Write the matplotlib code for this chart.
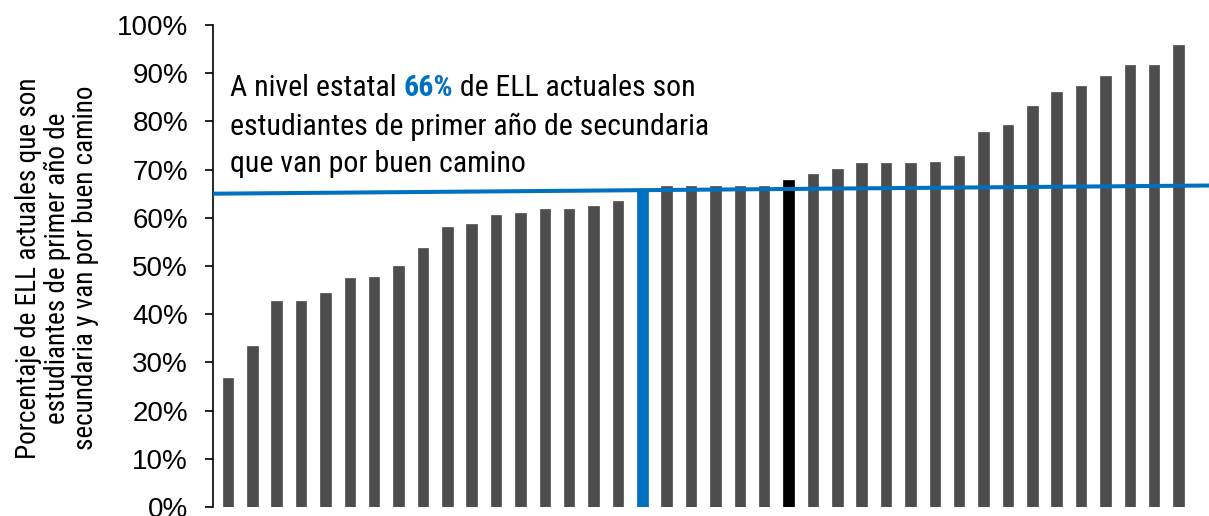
import matplotlib
matplotlib.use("Agg")
import matplotlib.pyplot as plt

# porcentaje por distrito, ordenado de menor a mayor
valores = [26.7, 33.3, 42.8, 42.8, 44.3, 47.5, 47.7, 49.9, 53.7, 58.0,
           58.8, 60.6, 60.9, 61.8, 61.8, 62.4, 63.5, 65.6, 66.6, 66.6,
           66.6, 66.6, 66.6, 67.8, 69.1, 70.2, 71.3, 71.3, 71.3, 71.5,
           72.8, 77.7, 79.3, 83.1, 86.0, 87.3, 89.4, 91.6, 91.6, 95.9]
idx_estatal = 17   # barra azul (estado)
idx_destacado = 23  # barra negra
linea_estatal = [65.0, 66.7]  # extremos de la linea azul
yticks = [0, 10, 20, 30, 40, 50, 60, 70, 80, 90, 100]

narrow = ["Roboto Condensed", "Liberation Sans", "DejaVu Sans"]

colores = []
for i in range(len(valores)):
    if i == idx_estatal:
        colores.append("#0070C0")
    elif i == idx_destacado:
        colores.append("#000000")
    else:
        colores.append("#4D4D4D")

fig = plt.figure(figsize=(12.09, 5.16), dpi=100)
ax = fig.add_axes([213/1209, 1 - 507/516, 1 - 213/1209, (507 - 25)/516])

x = list(range(len(valores)))
ax.bar(x, valores, width=0.43, color=colores, edgecolor=colores, linewidth=0.5)
xlim = (-0.615, 40.25)
ax.plot([xlim[0], xlim[1]], linea_estatal, color="#0070C0", lw=2.9,
        solid_capstyle="butt", clip_on=False, zorder=3)

ax.set_xlim(*xlim)
ax.set_ylim(0, 100)
ax.set_yticks(yticks)
ax.set_yticklabels([f"{t}%" for t in yticks], fontfamily="Liberation Sans", fontsize=20)
ax.tick_params(axis="y", direction="out", length=6, width=1.2, pad=12)
ax.set_xticks([])
for s in ["top", "right", "bottom"]:
    ax.spines[s].set_visible(False)
ax.spines["left"].set_linewidth(1.2)

fig.text(57/1209, 1 - 268/516,
         "Porcentaje de ELL actuales que son\nestudiantes de primer año de\nsecundaria y van por buen camino",
         rotation=90, ha="center", va="center", family=narrow, fontsize=19.5,
         linespacing=1.05)

# texto con "66%" en negrita azul
fs = 21.5
t1 = fig.text(230/1209, 1 - 96/516, "A nivel estatal ", family=narrow,
              fontsize=fs, va="baseline", ha="left")
t2 = ax.annotate("66%", xy=(1, 0), xycoords=t1, va="bottom", ha="left",
                 family=narrow, fontsize=fs, fontweight="bold", color="#0070C0")
t3 = ax.annotate(" de ELL actuales son", xy=(1, 0), xycoords=t2, va="bottom", ha="left",
                 family=narrow, fontsize=fs)
fig.text(230/1209, 1 - 135/516, "estudiantes de primer año de secundaria",
         family=narrow, fontsize=fs, va="baseline", ha="left")
fig.text(230/1209, 1 - 172/516, "que van por buen camino",
         family=narrow, fontsize=fs, va="baseline", ha="left")

fig.savefig("out.png", dpi=100)
